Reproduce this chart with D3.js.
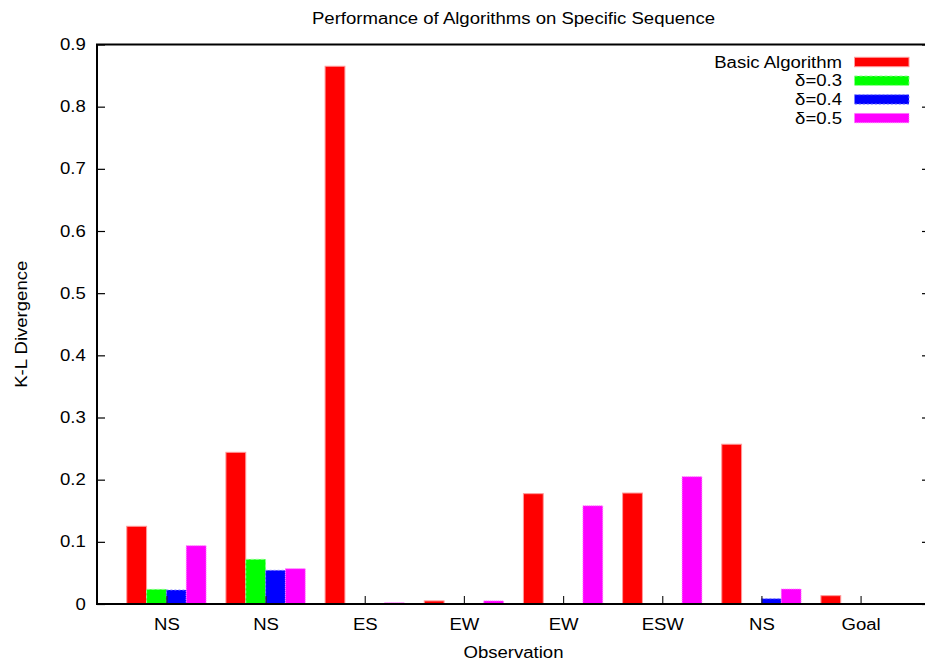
<!DOCTYPE html>
<html>
<head>
<meta charset="utf-8">
<script src="https://cdn.jsdelivr.net/npm/d3@7"></script>
<style>
  html, body { margin: 0; padding: 0; background: #fff; }
  svg { display: block; }
  text { font-family: "Liberation Sans", Arial, sans-serif; fill: #000; }
</style>
</head>
<body>
<svg id="chart" width="925" height="663"></svg>
<script>
// Observation sequence (x categories)
const categories = ["NS", "NS", "ES", "EW", "EW", "ESW", "NS", "Goal"];

// K-L divergence per algorithm variant
const basicAlgorithm = [0.125, 0.244, 0.865, 0.005, 0.1775, 0.1785, 0.257, 0.0134];
const delta03 = [0.0236, 0.0719, 0, 0, 0, 0, 0, 0];
const delta04 = [0.0225, 0.0542, 0, 0, 0, 0, 0.0085, 0];
const delta05 = [0.0938, 0.0568, 0.002, 0.005, 0.158, 0.2048, 0.0241, 0];

const seriesNames = ["Basic Algorithm", "\u03b4=0.3", "\u03b4=0.4", "\u03b4=0.5"];
const seriesValues = [basicAlgorithm, delta03, delta04, delta05];

const yTicks = [0, 0.1, 0.2, 0.3, 0.4, 0.5, 0.6, 0.7, 0.8, 0.9];

const title = "Performance of Algorithms on Specific Sequence";
const xLabel = "Observation";
const yLabel = "K-L Divergence";

// Styling
const fills = ["#ff0000", "#00ff00", "#0000ff", "#ff00ff"];
const edges = ["#ff9a9a", "#8cff8c", "#8080ff", "#ff80ff"];
const dashes = [null, "3,2", "2,2", "1,1"];
const FONT = 16;
const WIDEN = 1.16;   // the terminal font sets slightly wider than Arial

const svg = d3.select("#chart");
const plot = { left: 97, right: 930, top: 44.5, bottom: 604 };

const x = d3.scaleLinear().domain([-0.7, categories.length - 0.3]).range([plot.left, plot.right]);
const y = d3.scaleLinear().domain([0, 0.9]).range([plot.bottom, plot.top]);

const barW = 0.2;
const offsets = [-0.4, -0.2, 0, 0.2];

// Places a label at (px, py), optionally rotated, with the wider set width
function label(parent, px, py, str, anchor, rot = 0, dy = null) {
  const t = parent.append("text")
    .attr("transform", `translate(${px},${py}) rotate(${rot}) scale(${WIDEN},1)`)
    .attr("text-anchor", anchor)
    .style("font-size", FONT + "px")
    .text(str);
  if (dy) t.attr("dy", dy);
  return t;
}

// Bars
const bars = svg.append("g");
seriesValues.forEach((vals, s) => {
  bars.selectAll(null)
    .data(vals)
    .enter()
    .append("rect")
    .attr("x", (d, i) => x(i + offsets[s]))
    .attr("width", x(barW) - x(0))
    .attr("y", d => y(d))
    .attr("height", d => y(0) - y(d))
    .attr("fill", fills[s])
    .attr("stroke", edges[s])
    .attr("stroke-width", 1)
    .attr("stroke-dasharray", dashes[s]);
});

// Y axis (left, inward ticks)
const yAxisL = d3.axisLeft(y).tickValues(yTicks).tickFormat(d => d === 0 ? "0" : d3.format(".1f")(d))
  .tickSizeInner(-8).tickSizeOuter(0).tickPadding(11.3 / WIDEN);
const gyl = svg.append("g").attr("transform", `translate(${plot.left},0)`).call(yAxisL);
gyl.select(".domain").remove();
gyl.selectAll(".tick line").attr("stroke", "#000").attr("stroke-width", 1.2);
gyl.selectAll(".tick text").style("font-size", FONT + "px")
  .style("font-family", '"Liberation Sans", Arial, sans-serif').attr("fill", "#000")
  .attr("transform", `scale(${WIDEN},1)`);

// Mirrored ticks on the right border
const yAxisR = d3.axisRight(y).tickValues(yTicks).tickFormat("").tickSizeInner(-8).tickSizeOuter(0);
const gyr = svg.append("g").attr("transform", `translate(${plot.right},0)`).call(yAxisR);
gyr.select(".domain").remove();
gyr.selectAll(".tick line").attr("stroke", "#000").attr("stroke-width", 1.2);

// X axis (category ticks at group centres, inward)
const xAxis = d3.axisBottom(x).tickValues(d3.range(categories.length))
  .tickFormat(i => categories[i]).tickSizeInner(-8).tickSizeOuter(0).tickPadding(14.5);
const gx = svg.append("g").attr("transform", `translate(0,${plot.bottom})`).call(xAxis);
gx.select(".domain").remove();
gx.selectAll(".tick line").attr("stroke", "#222").attr("stroke-width", 1.2);
gx.selectAll(".tick text").style("font-size", FONT + "px")
  .style("font-family", '"Liberation Sans", Arial, sans-serif').attr("fill", "#000")
  .attr("transform", `scale(${WIDEN},1)`);

// Plot border
svg.append("rect")
  .attr("x", plot.left).attr("y", plot.top)
  .attr("width", plot.right - plot.left).attr("height", plot.bottom - plot.top)
  .attr("fill", "none").attr("stroke", "#000").attr("stroke-width", 2);

// Titles
const mid = (plot.left + plot.right) / 2;
label(svg, mid, 24, title, "middle");
label(svg, mid, 658, xLabel, "middle");
label(svg, 27, (plot.top + plot.bottom) / 2, yLabel, "middle", -90);

// Legend
const legend = svg.append("g");
seriesNames.forEach((name, s) => {
  const cy = 62 + s * 18.7;
  label(legend, 842, cy, name, "end", 0, "0.35em");
  legend.append("rect").attr("x", 854.5).attr("y", cy - 4.7)
    .attr("width", 54.5).attr("height", 9.4)
    .attr("fill", fills[s]).attr("stroke", edges[s]).attr("stroke-width", 1)
    .attr("stroke-dasharray", dashes[s]);
});
</script>
</body>
</html>
